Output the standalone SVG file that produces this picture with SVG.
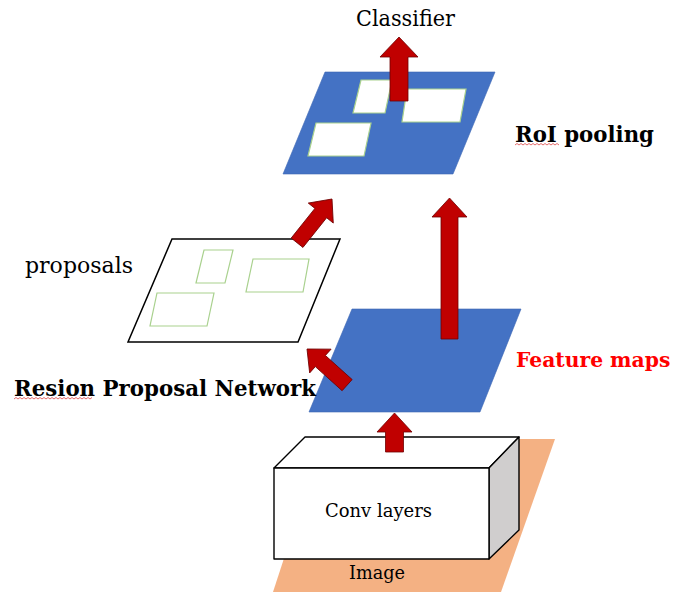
<svg xmlns="http://www.w3.org/2000/svg" width="680" height="592" viewBox="0 0 680 592">
  <style>
    .plane { fill: #4472c4; stroke: #3d67b3; stroke-width: 0.6; }
    .roi { fill: #ffffff; stroke: #a9d18e; stroke-width: 1.2; }
    .prop { fill: none; stroke: #a9d18e; stroke-width: 1.2; }
    .arrow { fill: #c00000; stroke: #6e0000; stroke-width: 0.8; stroke-linejoin: miter; }
    .lbl { font-family: "DejaVu Serif", "Liberation Serif", serif; fill: #000000; }
    .bold { font-weight: bold; }
    .squiggle { fill: none; stroke: #e15a5a; stroke-width: 0.9; }
  </style>

  <rect width="680" height="592" fill="#ffffff"/>

  <!-- input image plane -->
  <g id="image">
    <polygon points="323,439 555,439 501,592 273,592" fill="#f4b183"/>
    <text class="lbl" x="349" y="579" font-size="19" textLength="56" lengthAdjust="spacingAndGlyphs">Image</text>
  </g>

  <!-- convolutional block -->
  <g id="conv-layers" stroke="#000000" stroke-width="1.4" stroke-linejoin="round">
    <polygon points="274,468 305,437 519,437 489,468" fill="#ffffff"/>
    <polygon points="489,468 519,437 519,530 489,559" fill="#d0cece"/>
    <rect x="274" y="468" width="215" height="91" fill="#ffffff"/>
    <text class="lbl" x="325" y="517" font-size="19" stroke="none" textLength="107" lengthAdjust="spacingAndGlyphs">Conv layers</text>
  </g>

  <!-- feature maps plane -->
  <g id="feature-maps">
    <polygon class="plane" points="352,309 521,309 480,412 309,412"/>
    <text class="lbl bold" x="516" y="367" font-size="20.3" style="fill:#ff0000">Feature maps</text>
  </g>

  <!-- region proposals -->
  <g id="proposals">
    <polygon points="172,239 340,239 298,342 128,342" fill="#ffffff" stroke="#000000" stroke-width="1.5"/>
    <polygon class="prop" points="204,250 233,250 225,283 196,283"/>
    <polygon class="prop" points="253,259 309,259 303,292 246,292"/>
    <polygon class="prop" points="157,293 214,293 207,326 150,326"/>
    <text class="lbl" x="25" y="273" font-size="22" textLength="108" lengthAdjust="spacingAndGlyphs">proposals</text>
  </g>

  <g id="rpn-label">
    <text class="lbl bold" x="14" y="396" font-size="23" textLength="302" lengthAdjust="spacingAndGlyphs">Resion Proposal Network</text>
    <path class="squiggle" d="M14,399 l2,-1.5 l2,1.5 l2,-1.5 l2,1.5 l2,-1.5 l2,1.5 l2,-1.5 l2,1.5 l2,-1.5 l2,1.5 l2,-1.5 l2,1.5 l2,-1.5 l2,1.5 l2,-1.5 l2,1.5 l2,-1.5 l2,1.5 l2,-1.5 l2,1.5 l2,-1.5 l2,1.5 l2,-1.5 l2,1.5 l2,-1.5 l2,1.5 l2,-1.5 l2,1.5 l2,-1.5 l2,1.5 l2,-1.5 l2,1.5 l2,-1.5 l2,1.5 l2,-1.5 l2,1.5 l2,-1.5 l2,1.5 l2,-1.5"/>
  </g>

  <!-- RoI pooling plane -->
  <g id="roi-pooling">
    <polygon class="plane" points="325,72 495,72 453,174 283,174"/>
    <polygon class="roi" points="361,80 392,80 385,113 353,113"/>
    <polygon class="roi" points="407,89 466,89 460,122 402,122"/>
    <polygon class="roi" points="316,123 371,123 364,156 308,156"/>
    <text class="lbl bold" x="515" y="142" font-size="23" textLength="139" lengthAdjust="spacingAndGlyphs">RoI pooling</text>
    <path class="squiggle" d="M515,145 l2,-1.5 l2,1.5 l2,-1.5 l2,1.5 l2,-1.5 l2,1.5 l2,-1.5 l2,1.5 l2,-1.5 l2,1.5 l2,-1.5 l2,1.5 l2,-1.5 l2,1.5 l2,-1.5 l2,1.5 l2,-1.5 l2,1.5 l2,-1.5 l2,1.5 l2,-1.5 l2,1.5"/>
  </g>

  <g id="classifier">
    <text class="lbl" x="356" y="26" font-size="22" textLength="99" lengthAdjust="spacingAndGlyphs">Classifier</text>
  </g>

  <!-- connectors -->
  <g id="connectors">
    <path class="arrow" transform="translate(394.5,413)" d="M0,0 L17.5,19 L9,19 L9,39 L-9,39 L-9,19 L-17.5,19 Z"/>
    <path class="arrow" transform="translate(449.5,198)" d="M0,0 L17.5,19 L8.5,19 L8.5,141 L-8.5,141 L-8.5,19 L-17.5,19 Z"/>
    <path class="arrow" transform="translate(307,349) rotate(-48)" d="M0,0 L16,18 L7.5,18 L7.5,54 L-7.5,54 L-7.5,18 L-16,18 Z"/>
    <path class="arrow" transform="translate(332,199) rotate(38.6)" d="M0,0 L16,18 L7.5,18 L7.5,56 L-7.5,56 L-7.5,18 L-16,18 Z"/>
    <path class="arrow" transform="translate(399,37)" d="M0,0 L19,20 L9,20 L9,64 L-9,64 L-9,20 L-19,20 Z"/>
  </g>
</svg>
